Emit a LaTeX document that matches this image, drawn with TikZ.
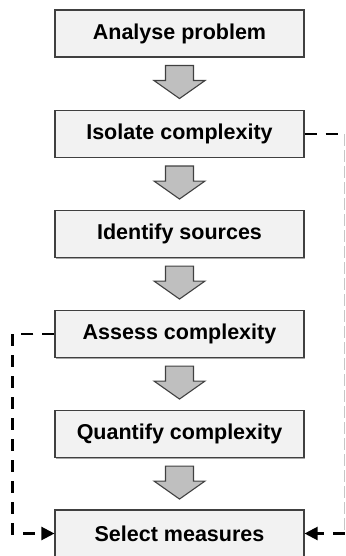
\documentclass[tikz,border=0pt]{standalone}
\usepackage{fontspec}
\setmainfont{Liberation Sans}
\usetikzlibrary{arrows.meta,calc}
\definecolor{boxfill}{HTML}{F2F2F2}
\definecolor{boxline}{HTML}{404040}
\definecolor{arrfill}{HTML}{BFBFBF}
\tikzset{
  stepbox/.style={draw=boxline, fill=boxfill, line width=1.1pt, minimum width=249pt, minimum height=47pt,
    inner sep=0pt, font=\fontsize{21.5}{24}\selectfont\bfseries,
    general shadow={fill=gray!70, shadow xshift=1pt, shadow yshift=-1pt}},
  blockarrow/.style={draw=boxline, fill=arrfill, line width=1.1pt, line join=miter},
  blackdash/.style={draw=black, line width=2.2pt, dash pattern=on 12pt off 9pt},
  greydash/.style={draw=gray!45, line width=1pt, dash pattern=on 12pt off 4pt},
  tip/.style={-{Triangle[length=13pt,width=13pt]}}
}
\usetikzlibrary{shadows}
\begin{document}
\begin{tikzpicture}[x=1pt,y=-1pt]
\useasboundingbox (0,0) rectangle (345,556);
\node[stepbox] (b1) at (179.5,33.5) {Analyse problem};
\node[stepbox] (b2) at (179.5,134) {Isolate complexity};
\node[stepbox] (b3) at (179.5,234) {Identify sources};
\node[stepbox] (b4) at (179.5,334) {Assess complexity};
\node[stepbox] (b5) at (179.5,434) {Quantify complexity};
\node[stepbox] (b6) at (179.5,533.5) {Select measures};
\foreach \n in {b1,b2,b3,b4,b5}{
  \draw[blockarrow] ([yshift=-8pt]\n.south) ++(-14,0) -- ++(28,0) -- ++(0,15) -- ++(11.5,0)
    -- ++(-25.5,18) -- ++(-25.5,-18) -- ++(11.5,0) -- cycle;
}
\coordinate (r1) at (344.5,134);
\coordinate (r2) at (344.5,533.5);
\coordinate (l1) at (12.5,334);
\coordinate (l2) at (12.5,533.5);
\draw[blackdash] (b2.east) -- (r1);
\draw[greydash] (r1) -- (r2);
\draw[blackdash, tip] (r2) -- (b6.east);
\draw[blackdash, tip] (b4.west) -- (l1) -- (l2) -- (b6.west);
\end{tikzpicture}
\end{document}
